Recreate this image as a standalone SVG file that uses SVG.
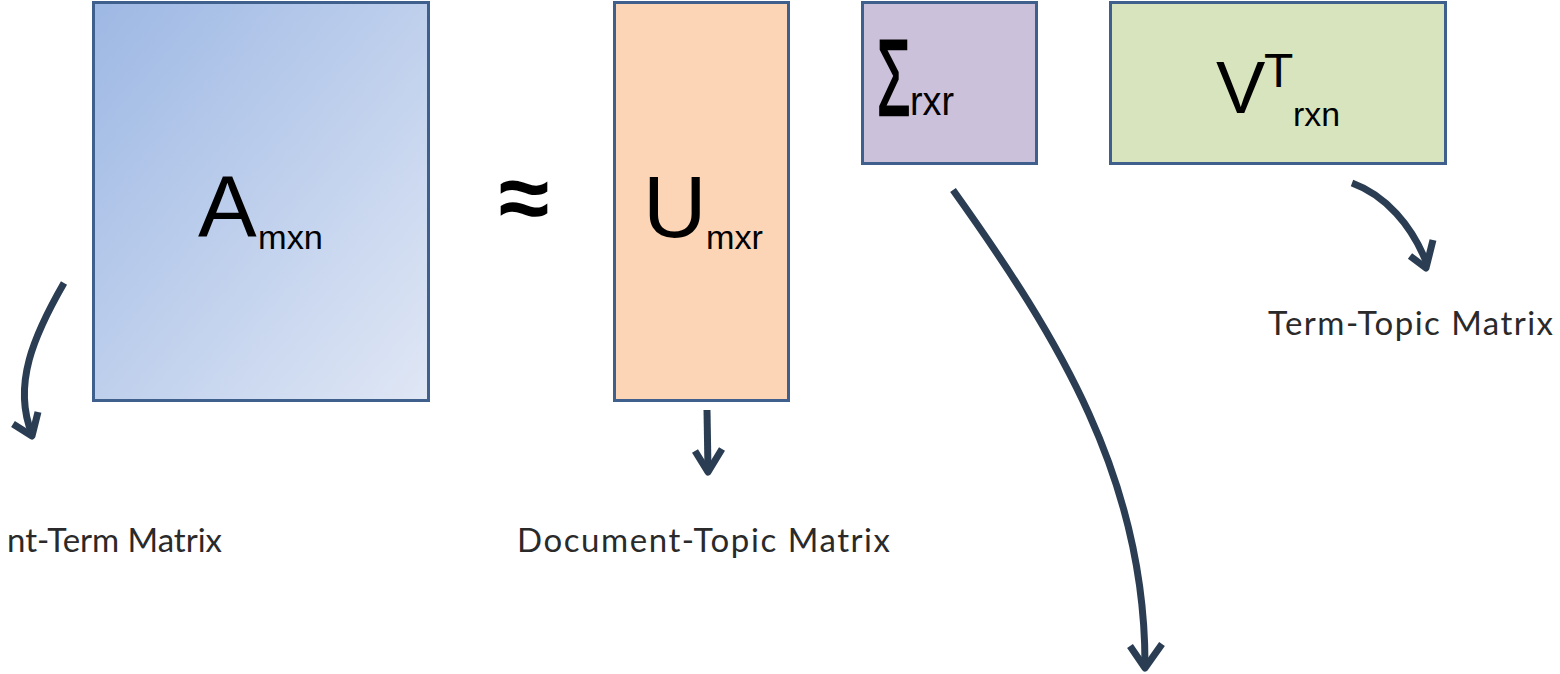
<svg xmlns="http://www.w3.org/2000/svg" width="1560" height="674" viewBox="0 0 1560 674">
<style>
.box{stroke:#3f5f8c;stroke-width:3}
.sym{font-family:"Liberation Sans",Arial,sans-serif;fill:#000}
.lbl{font-family:Lato,"Open Sans",sans-serif;font-size:33px;fill:#2a2a2a}
.arr{fill:none;stroke:#2b3d52;stroke-width:7;stroke-linecap:butt;stroke-linejoin:round}
</style>
<defs>
<linearGradient id="gA" x1="0" y1="0" x2="1" y2="1">
<stop offset="0" stop-color="#9db8e4"/>
<stop offset="1" stop-color="#e0e7f5"/>
</linearGradient>
</defs>
<rect width="1560" height="674" fill="#fff"/>
<g id="nodeA">
<rect class="box" x="93.5" y="2.5" width="335" height="398" fill="url(#gA)"/>
<text class="sym" x="198" y="237" font-size="88">A</text>
<text class="sym" x="258" y="249" font-size="34" textLength="65" lengthAdjust="spacingAndGlyphs">mxn</text>
</g>
<g id="approx">
<text class="sym" x="524" y="229" font-size="92" font-weight="bold" text-anchor="middle">≈</text>
</g>
<g id="nodeU">
<rect class="box" x="614.5" y="2.5" width="174" height="398" fill="#fbd5b5"/>
<text class="sym" x="643" y="237" font-size="88">U</text>
<text class="sym" x="706" y="249" font-size="34" textLength="57" lengthAdjust="spacingAndGlyphs">mxr</text>
</g>
<g id="nodeS">
<rect class="box" x="862.5" y="2.5" width="174" height="161" fill="#ccc1da"/>
<text class="sym" transform="translate(877,115) scale(0.5,1)" font-size="108" stroke="#000" stroke-width="2.5">Σ</text>
<text class="sym" x="910" y="115" font-size="40" textLength="44" lengthAdjust="spacingAndGlyphs">rxr</text>
</g>
<g id="nodeV">
<rect class="box" x="1110.5" y="2.5" width="335" height="161" fill="#d7e4bd"/>
<text class="sym" x="1216" y="113" font-size="74">V</text>
<text class="sym" x="1264" y="87" font-size="48">T</text>
<text class="sym" x="1293" y="126" font-size="34" textLength="47" lengthAdjust="spacingAndGlyphs">rxn</text>
</g>
<g id="labels">
<text class="lbl" x="7" y="552" textLength="215" lengthAdjust="spacing">nt-Term Matrix</text>
<text class="lbl" x="517" y="552" textLength="373" lengthAdjust="spacing">Document-Topic Matrix</text>
<text class="lbl" x="1268" y="335" textLength="285" lengthAdjust="spacing">Term-Topic Matrix</text>
</g>
<g id="connectors">
<path class="arr" d="M64,283 C34,335 12,385 32,434"/>
<path class="arr" d="M13,424 L32,436 L38,412"/>
<path class="arr" d="M707,410 L708,470"/>
<path class="arr" d="M695,451 L708,472 L722,449"/>
<path class="arr" d="M953,190 C1060,340 1145,480 1145,664"/>
<path class="arr" d="M1130,646 L1145,668 L1162,644"/>
<path class="arr" d="M1352,183 C1385,195 1412,225 1427,264"/>
<path class="arr" d="M1410,256 L1426,268 L1433,240"/>
</g>
</svg>
